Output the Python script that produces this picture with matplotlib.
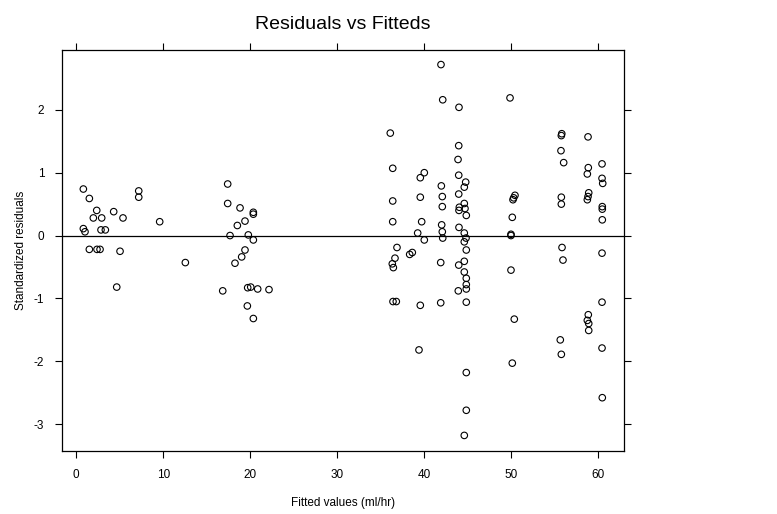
import matplotlib
matplotlib.use("Agg")
import matplotlib.pyplot as plt

plt.rcParams["font.family"] = ["Liberation Sans", "DejaVu Sans"]
plt.rcParams["axes.unicode_minus"] = False

# fitted values (ml/hr) and standardized residuals
fitted = [
    0.81, 1.50, 2.35, 1.96, 2.92, 4.30, 5.37, 0.81, 1.00, 2.84,
    3.34, 7.18, 7.18, 9.59, 1.50, 2.38, 2.73, 5.03, 4.65, 12.54,
    17.41, 17.41, 18.83, 20.36, 20.36, 19.40, 18.52, 17.68, 19.78, 20.36,
    19.40, 19.02, 18.25, 16.84, 19.71, 20.06, 20.86, 22.16, 19.67, 20.36,
    41.94, 42.14, 44.01, 36.11, 43.98, 43.90, 36.39, 40.02, 39.56, 43.98,
    44.78, 44.62, 41.98, 39.56, 42.09, 36.39, 43.98, 44.62, 44.05, 44.70,
    44.01, 44.85, 42.09, 36.39, 39.72, 42.02, 42.09, 42.14, 44.01, 39.26,
    40.02, 44.62, 44.82, 44.62, 36.88,
    44.85, 36.65, 36.34, 36.46, 38.34, 38.64, 41.91, 43.98, 44.62, 44.62,
    44.85, 44.85, 44.85, 43.93, 36.42, 36.80, 39.56, 41.91, 44.85, 39.41,
    44.85, 44.85, 44.62,
    49.88, 55.83, 55.78, 58.85, 55.74, 56.05, 60.46, 58.88, 58.77, 60.46,
    60.54, 50.45, 50.30, 50.22, 55.78, 55.78, 58.93, 58.85, 58.77, 60.49,
    60.49, 60.49, 50.14, 49.99, 49.99, 55.86, 55.97, 60.46, 49.99,
    60.46, 50.37, 58.88, 58.77, 58.93, 58.93, 55.66, 55.78, 50.14, 60.46,
    60.49,
]
std_resid = [
    0.74, 0.59, 0.40, 0.28, 0.28, 0.38, 0.28, 0.11, 0.06, 0.09,
    0.09, 0.71, 0.61, 0.22, -0.22, -0.22, -0.22, -0.25, -0.82, -0.43,
    0.82, 0.51, 0.44, 0.37, 0.34, 0.23, 0.16, 0.00, 0.01, -0.07,
    -0.23, -0.34, -0.44, -0.88, -0.83, -0.82, -0.85, -0.86, -1.12, -1.32,
    2.72, 2.16, 2.04, 1.63, 1.43, 1.21, 1.07, 1.00, 0.92, 0.96,
    0.85, 0.77, 0.79, 0.61, 0.62, 0.55, 0.66, 0.51, 0.45, 0.43,
    0.40, 0.32, 0.46, 0.22, 0.22, 0.17, 0.06, -0.04, 0.13, 0.04,
    -0.07, 0.04, -0.04, -0.10, -0.19,
    -0.23, -0.36, -0.45, -0.51, -0.30, -0.27, -0.43, -0.47, -0.41, -0.58,
    -0.68, -0.78, -0.85, -0.88, -1.05, -1.05, -1.11, -1.07, -1.06, -1.82,
    -2.18, -2.78, -3.18,
    2.19, 1.62, 1.59, 1.57, 1.35, 1.16, 1.14, 1.08, 0.98, 0.91,
    0.83, 0.64, 0.60, 0.57, 0.61, 0.50, 0.68, 0.62, 0.57, 0.46,
    0.42, 0.25, 0.29, 0.02, 0.00, -0.19, -0.39, -0.28, -0.55,
    -1.06, -1.33, -1.26, -1.35, -1.40, -1.51, -1.66, -1.89, -2.03, -1.79,
    -2.58,
]
x_ticks = [0, 10, 20, 30, 40, 50, 60]
y_ticks = [-3, -2, -1, 0, 1, 2]

fig = plt.figure(figsize=(7.77, 5.14), dpi=100)
ax = fig.add_axes([62.3 / 777, 1 - 450.5 / 514, (623.5 - 62.3) / 777, (450.5 - 49.5) / 514])

ax.axhline(0, color="black", linewidth=0.9, zorder=1)
ax.scatter(fitted, std_resid, s=22, facecolors="none", edgecolors="black",
           linewidths=0.8, zorder=2)

ax.set_xlim(-1.61, 62.93)
ax.set_ylim(-3.42, 2.96)
ax.set_xticks(x_ticks)
ax.set_yticks(y_ticks)
ax.tick_params(direction="out", length=5, width=0.8, labelsize=8.5,
               top=True, right=True, labeltop=False, labelright=False, pad=8)
for s in ax.spines.values():
    s.set_linewidth(0.9)

ax.set_title("Residuals vs Fitteds", fontsize=14, pad=15)
ax.set_xlabel("Fitted values (ml/hr)", fontsize=8.5, labelpad=12)
ax.set_ylabel("Standardized residuals", fontsize=8.5, labelpad=5)

fig.savefig("out.png", dpi=100)
